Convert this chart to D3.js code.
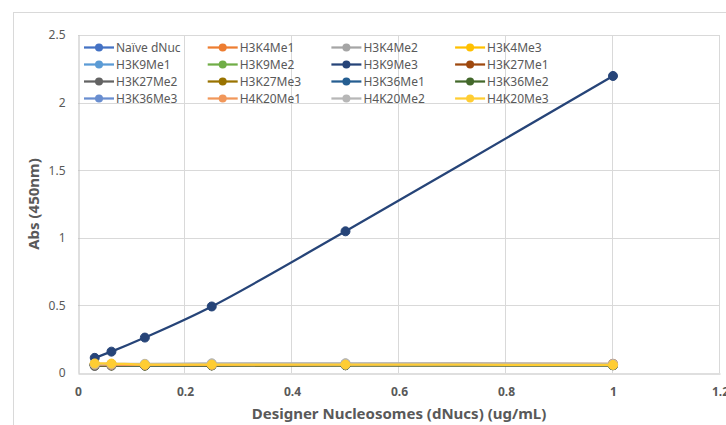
<!DOCTYPE html>
<html>
<head>
<meta charset="utf-8">
<script src="https://cdn.jsdelivr.net/npm/d3@7"></script>
<style>
  body { margin: 0; background: #fff; }
  text { font-family: "Noto Sans", "Open Sans", sans-serif; fill: #595959; }
</style>
</head>
<body>
<div id="chart"></div>
<script>
// concentrations (ug/mL)
var concentrations = [0.03125, 0.0625, 0.125, 0.25, 0.5, 1];

// series names and colours (Excel office palette)
var seriesNames = ["Naïve dNuc", "H3K4Me1", "H3K4Me2", "H3K4Me3",
  "H3K9Me1", "H3K9Me2", "H3K9Me3", "H3K27Me1",
  "H3K27Me2", "H3K27Me3", "H3K36Me1", "H3K36Me2",
  "H3K36Me3", "H4K20Me1", "H4K20Me2", "H4K20Me3"];
var seriesColors = ["#4472C4", "#ED7D31", "#A5A5A5", "#FFC000",
  "#5B9BD5", "#70AD47", "#264478", "#9E480E",
  "#636363", "#997300", "#255E91", "#43682B",
  "#698ED0", "#F1975A", "#B7B7B7", "#FFCD33"];

// Abs (450nm) readings, one row per series
var naiveAbs    = [0.062, 0.060, 0.058, 0.060, 0.062, 0.060];
var h3k4me1Abs  = [0.060, 0.058, 0.057, 0.058, 0.060, 0.061];
var h3k4me2Abs  = [0.065, 0.066, 0.064, 0.068, 0.070, 0.066];
var h3k4me3Abs  = [0.068, 0.066, 0.062, 0.062, 0.064, 0.063];
var h3k9me1Abs  = [0.058, 0.057, 0.056, 0.057, 0.058, 0.058];
var h3k9me2Abs  = [0.059, 0.058, 0.057, 0.058, 0.059, 0.059];
var h3k9me3Abs  = [0.112, 0.158, 0.262, 0.492, 1.048, 2.197];
var h3k27me1Abs = [0.060, 0.059, 0.058, 0.059, 0.066, 0.068];
var h3k27me2Abs = [0.052, 0.054, 0.055, 0.056, 0.057, 0.057];
var h3k27me3Abs = [0.058, 0.057, 0.056, 0.057, 0.058, 0.058];
var h3k36me1Abs = [0.060, 0.059, 0.058, 0.059, 0.060, 0.060];
var h3k36me2Abs = [0.059, 0.058, 0.057, 0.058, 0.059, 0.059];
var h3k36me3Abs = [0.061, 0.060, 0.059, 0.060, 0.061, 0.061];
var h4k20me1Abs = [0.062, 0.061, 0.060, 0.061, 0.064, 0.065];
var h4k20me2Abs = [0.066, 0.067, 0.068, 0.072, 0.072, 0.066];
var h4k20me3Abs = [0.071, 0.070, 0.062, 0.062, 0.062, 0.060];

var seriesValues = [naiveAbs, h3k4me1Abs, h3k4me2Abs, h3k4me3Abs,
  h3k9me1Abs, h3k9me2Abs, h3k9me3Abs, h3k27me1Abs,
  h3k27me2Abs, h3k27me3Abs, h3k36me1Abs, h3k36me2Abs,
  h3k36me3Abs, h4k20me1Abs, h4k20me2Abs, h4k20me3Abs];

var xTicks = [0, 0.2, 0.4, 0.6, 0.8, 1, 1.2];
var yTicks = [0, 0.5, 1, 1.5, 2, 2.5];

// dimensions
var W = 726, H = 425;
var margin = {top: 35, right: 6, bottom: 52, left: 78},
  width = W - margin.left - margin.right,
  height = H - margin.top - margin.bottom;

var svg = d3.select("#chart").append("svg")
  .attr("width", W).attr("height", H);

// outer chart frame
svg.append("rect")
  .attr("x", 13.5).attr("y", 12.5)
  .attr("width", W).attr("height", H)
  .attr("fill", "none").attr("stroke", "#d9d9d9");

var g = svg.append("g")
  .attr("transform", "translate(" + margin.left + "," + margin.top + ")");

var x = d3.scaleLinear().domain([0, 1.2]).range([0, width]);
var y = d3.scaleLinear().domain([0, 2.5]).range([height, 0]);

// gridlines
g.append("g").selectAll("line.h").data(yTicks.slice(1)).enter().append("line")
  .attr("x1", 0).attr("x2", width)
  .attr("y1", function(d) { return Math.round(y(d)) + 0.5; })
  .attr("y2", function(d) { return Math.round(y(d)) + 0.5; })
  .attr("stroke", "#d9d9d9");
g.append("g").selectAll("line.v").data(xTicks.slice(1)).enter().append("line")
  .attr("y1", 0).attr("y2", height)
  .attr("x1", function(d) { return Math.round(x(d)) - 0.5; })
  .attr("x2", function(d) { return Math.round(x(d)) - 0.5; })
  .attr("stroke", "#d9d9d9");

// axes
var yAxis = g.append("g").attr("transform", "translate(0.5,0)")
  .call(d3.axisLeft(y).tickValues(yTicks).tickSize(0).tickPadding(13).tickFormat(d3.format("")));
yAxis.select(".domain").attr("stroke", "#bfbfbf");
yAxis.selectAll("text").style("font-size", "12px").attr("fill", "#595959");

var xAxis = g.append("g").attr("transform", "translate(0," + (height + 0.5) + ")")
  .call(d3.axisBottom(x).tickValues(xTicks).tickSize(0).tickPadding(14).tickFormat(d3.format("")));
xAxis.select(".domain").attr("stroke", "#bfbfbf");
xAxis.selectAll("text").style("font-size", "12px").style("font-weight", "bold").attr("fill", "#595959");

// axis titles
svg.append("text")
  .attr("transform", "translate(39," + (margin.top + height / 2) + ") rotate(-90)")
  .attr("text-anchor", "middle")
  .style("font-size", "15px").style("font-weight", "bold")
  .text("Abs (450nm)");
svg.append("text")
  .attr("x", margin.left + width / 2).attr("y", 419)
  .attr("text-anchor", "middle")
  .style("font-size", "15px").style("font-weight", "bold")
  .text("Designer Nucleosomes (dNucs) (ug/mL)");

// series lines + markers
var line = d3.line()
  .x(function(d, i) { return x(concentrations[i]); })
  .y(function(d) { return y(d); })
  .curve(d3.curveCatmullRom.alpha(0.5));

seriesValues.forEach(function(vals, s) {
  var sg = g.append("g");
  sg.append("path").datum(vals)
    .attr("d", line)
    .attr("fill", "none")
    .attr("stroke", seriesColors[s])
    .attr("stroke-width", 2.25);
  sg.selectAll("circle").data(vals).enter().append("circle")
    .attr("cx", function(d, i) { return x(concentrations[i]); })
    .attr("cy", function(d) { return y(d); })
    .attr("r", 4.5)
    .attr("fill", seriesColors[s])
    .attr("stroke", seriesColors[s]);
});

// legend (4 columns, transparent)
var legend = svg.append("g");
seriesNames.forEach(function(name, i) {
  var col = i % 4, row = Math.floor(i / 4);
  var lx = 84 + col * 123.7, ly = 47.5 + row * 17;
  var item = legend.append("g").attr("transform", "translate(" + lx + "," + ly + ")");
  item.append("line").attr("x1", 0).attr("x2", 30).attr("y1", 0).attr("y2", 0)
    .attr("stroke", seriesColors[i]).attr("stroke-width", 2.25);
  item.append("circle").attr("cx", 15).attr("cy", 0).attr("r", 4)
    .attr("fill", seriesColors[i]);
  item.append("text").attr("x", 32).attr("y", 0).attr("dy", "0.35em")
    .style("font-size", "12px")
    .text(name);
});
</script>
</body>
</html>
